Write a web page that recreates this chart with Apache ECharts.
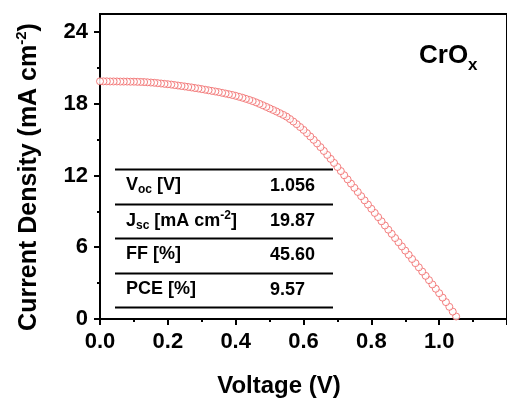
<!DOCTYPE html>
<html>
<head>
<meta charset="utf-8">
<script src="https://cdn.jsdelivr.net/npm/echarts@6/dist/echarts.min.js"></script>
<style>
    html, body {margin: 0; padding: 0; background: #fff;}
    #chart {width: 507px; height: 401px;}
</style>
</head>
<body>
<div id="chart"></div>
<script>
// J-V 曲线数据
var voltage = [
    0.00, 0.01, 0.02, 0.03, 0.04, 0.05, 0.06, 0.07, 0.08, 0.09,
    0.10, 0.11, 0.12, 0.13, 0.14, 0.15, 0.16, 0.17, 0.18, 0.19,
    0.20, 0.21, 0.22, 0.23, 0.24, 0.25, 0.26, 0.27, 0.28, 0.29,
    0.30, 0.31, 0.32, 0.33, 0.34, 0.35, 0.36, 0.37, 0.38, 0.39,
    0.40, 0.41, 0.42, 0.43, 0.44, 0.45, 0.46, 0.47, 0.48, 0.49,
    0.50, 0.51, 0.52, 0.53, 0.54, 0.55, 0.56, 0.57, 0.58, 0.59,
    0.60, 0.61, 0.62, 0.63, 0.64, 0.65, 0.66, 0.67, 0.68, 0.69,
    0.70, 0.71, 0.72, 0.73, 0.74, 0.75, 0.76, 0.77, 0.78, 0.79,
    0.80, 0.81, 0.82, 0.83, 0.84, 0.85, 0.86, 0.87, 0.88, 0.89,
    0.90, 0.91, 0.92, 0.93, 0.94, 0.95, 0.96, 0.97, 0.98, 0.99,
    1.00, 1.01, 1.02, 1.03, 1.04, 1.05
];
var current = [
    19.87, 19.87, 19.87, 19.86, 19.86, 19.86, 19.85, 19.85, 19.85, 19.84,
    19.84, 19.83, 19.82, 19.81, 19.79, 19.77, 19.75, 19.72, 19.69, 19.66,
    19.63, 19.60, 19.56, 19.52, 19.48, 19.44, 19.40, 19.36, 19.31, 19.27,
    19.22, 19.17, 19.12, 19.07, 19.02, 18.97, 18.91, 18.85, 18.79, 18.73,
    18.66, 18.58, 18.50, 18.41, 18.32, 18.22, 18.11, 17.99, 17.87, 17.74,
    17.61, 17.48, 17.35, 17.21, 17.07, 16.92, 16.72, 16.51, 16.29, 16.05,
    15.81, 15.54, 15.26, 14.98, 14.68, 14.37, 14.05, 13.72, 13.39, 13.05,
    12.71, 12.37, 12.02, 11.67, 11.32, 10.97, 10.62, 10.27, 9.92, 9.57,
    9.22, 8.87, 8.52, 8.17, 7.82, 7.47, 7.12, 6.77, 6.42, 6.07,
    5.72, 5.37, 5.02, 4.67, 4.32, 3.97, 3.61, 3.25, 2.89, 2.53,
    2.16, 1.79, 1.41, 1.02, 0.62, 0.21
];
var xTicks = [0, 0.2, 0.4, 0.6, 0.8, 1.0];
var yTicks = [0, 6, 12, 18, 24];
var yMinorTicks = [3, 9, 15, 21];

// 参数表
var paramNames = [
    '{b|V}{sub|oc}{b| [V]}',
    '{b|J}{sub|sc}{b| [mA cm}{sup|-2}{b|]}',
    '{b|FF [%]}',
    '{b|PCE [%]}'
];
var paramValues = ['1.056', '19.87', '45.60', '9.57'];

var font = '"Liberation Sans", Arial, sans-serif';

// 扫描方向从高电压到低电压
var points = [];
for (var i = voltage.length - 1; i >= 0; i--) {
    points.push([voltage[i], current[i]]);
}

var graphics = [];
// 表格横线
for (var i = 0; i < 5; i++) {
    var ly = Math.round(169 + i * 34.6) + 0.5;
    graphics.push({
        type: 'line',
        shape: {x1: 115, y1: ly, x2: 333, y2: ly},
        style: {stroke: '#000', lineWidth: 2}
    });
}
var tableRich = {
    b: {fontSize: 18, fontWeight: 'bold', fontFamily: font, fill: '#000', verticalAlign: 'bottom', padding: [0, 0, 2, 0]},
    sub: {fontSize: 12, fontWeight: 'bold', fontFamily: font, fill: '#000', verticalAlign: 'bottom'},
    sup: {fontSize: 12, fontWeight: 'bold', fontFamily: font, fill: '#000', verticalAlign: 'bottom', padding: [0, 0, 10, 0]}
};
for (var i = 0; i < paramNames.length; i++) {
    var cy = 186 + i * 34.6;
    graphics.push({
        type: 'text',
        x: 126, y: cy,
        style: {
            text: paramNames[i], rich: tableRich, fill: '#000',
            align: 'left', verticalAlign: 'middle', textAlign: 'left', textVerticalAlign: 'middle'
        }
    });
    graphics.push({
        type: 'text',
        x: 270, y: cy,
        style: {
            text: paramValues[i], fill: '#000', font: 'bold 18px ' + font,
            align: 'left', verticalAlign: 'middle', textAlign: 'left', textVerticalAlign: 'middle'
        }
    });
}
// CrOx 标注
graphics.push({
    type: 'text',
    x: 419, y: 74,
    style: {
        text: '{a|CrO}{s|x}', fill: '#000',
        rich: {
            a: {fontSize: 26, fontWeight: 'bold', fontFamily: font, fill: '#000', verticalAlign: 'bottom', padding: [0, 0, 5, 0]},
            s: {fontSize: 17, fontWeight: 'bold', fontFamily: font, fill: '#000', verticalAlign: 'bottom'}
        },
        align: 'left', verticalAlign: 'bottom', textAlign: 'left', textVerticalAlign: 'bottom'
    }
});
// 坐标轴标题
graphics.push({
    type: 'text',
    x: 279, y: 386,
    style: {
        text: 'Voltage (V)', fill: '#000', font: 'bold 24px ' + font,
        align: 'center', verticalAlign: 'middle', textAlign: 'center', textVerticalAlign: 'middle'
    }
});
graphics.push({
    type: 'text',
    x: 28, y: 177,
    rotation: Math.PI / 2,
    style: {
        text: '{t|Current Density (mA cm}{p|-2}{t|)}', fill: '#000',
        rich: {
            t: {fontSize: 25, fontWeight: 'bold', fontFamily: font, fill: '#000', verticalAlign: 'bottom'},
            p: {fontSize: 15, fontWeight: 'bold', fontFamily: font, fill: '#000', verticalAlign: 'bottom', padding: [0, 0, 12, 0]}
        },
        align: 'center', verticalAlign: 'middle', textAlign: 'center', textVerticalAlign: 'middle'
    }
});

var myChart = echarts.init(document.getElementById('chart'), null, {renderer: 'canvas'});
var option = {
    animation: false,
    backgroundColor: '#fff',
    grid: {
        left: 100,
        top: 14,
        right: -12,
        bottom: 82,
        show: true,
        borderColor: '#000',
        borderWidth: 2,
        backgroundColor: 'transparent'
    },
    xAxis: {
        type: 'value',
        min: 0,
        max: 1.2,
        interval: 0.2,
        axisLine: {lineStyle: {color: '#000', width: 2}},
        axisTick: {show: true, length: 6, lineStyle: {color: '#000', width: 2}},
        minorTick: {show: true, splitNumber: 2, length: 3, lineStyle: {color: '#000', width: 2}},
        splitLine: {show: false},
        axisLabel: {
            customValues: xTicks,
            margin: 12,
            color: '#000',
            fontSize: 22,
            fontWeight: 'bold',
            fontFamily: font,
            formatter: function (v) { return v.toFixed(1); }
        }
    },
    yAxis: [
        {
            type: 'value',
            min: 0,
            max: 25.5,
            interval: 6,
            axisLine: {show: true, lineStyle: {color: '#000', width: 2}},
            axisTick: {show: true, customValues: yTicks, length: 6, lineStyle: {color: '#000', width: 2}},
            splitLine: {show: false},
            axisLabel: {
                customValues: yTicks,
                margin: 12,
                color: '#000',
                fontSize: 22,
                fontWeight: 'bold',
                fontFamily: font
            }
        },
        {
            // 次刻度
            type: 'value',
            min: 0,
            max: 25.5,
            interval: 3,
            position: 'left',
            axisLine: {show: false},
            axisTick: {show: true, customValues: yMinorTicks, length: 3, lineStyle: {color: '#000', width: 2}},
            splitLine: {show: false},
            axisLabel: {show: false}
        }
    ],
    series: [
        {
            type: 'scatter',
            symbol: 'circle',
            symbolSize: 7,
            itemStyle: {color: '#fff', borderColor: '#f06262', borderWidth: 1},
            data: points
        }
    ],
    graphic: graphics
};
myChart.setOption(option);
</script>
</body>
</html>
